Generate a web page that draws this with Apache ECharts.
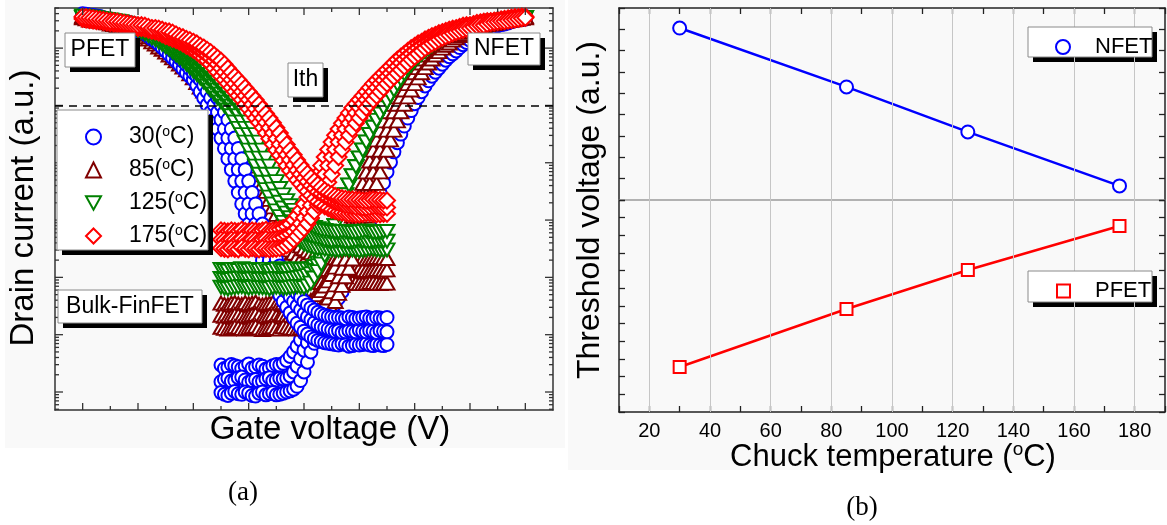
<!DOCTYPE html>
<html>
<head>
<meta charset="utf-8">
<script src="https://cdn.jsdelivr.net/npm/echarts@6/dist/echarts.min.js"></script>
<style>
html,body{margin:0;padding:0;background:#fff;}
#chart{width:1167px;height:525px;}
</style>
</head>
<body>
<div id="chart"></div>
<script>
// ---------- (a) transfer curves: gate sweeps (V) ----------
const gateP = [-1.600,-1.575,-1.550,-1.525,-1.500,-1.475,-1.450,-1.425,-1.400,-1.375,-1.350,-1.325,-1.300,-1.275,-1.250,-1.225,-1.200,-1.175,-1.150,-1.125,-1.100,-1.075,-1.050,-1.025,-1.000,-0.975,-0.950,-0.925,-0.900,-0.875,-0.850,-0.825,-0.800,-0.775,-0.750,-0.725,-0.700,-0.675,-0.650,-0.625,-0.600,-0.575,-0.550,-0.525,-0.500,-0.475,-0.450,-0.425,-0.400,-0.375,-0.350,-0.325,-0.300,-0.275,-0.250,-0.225,-0.200,-0.175,-0.150,-0.125,-0.100,-0.075,-0.050,-0.025,0.000,0.025,0.050,0.075,0.100,0.125,0.150,0.175,0.200,0.225,0.250,0.275,0.300,0.325,0.350,0.375,0.400,0.425,0.450,0.475,0.500,0.525,0.550,0.575,0.600];
const gateN = [-0.600,-0.575,-0.550,-0.525,-0.500,-0.475,-0.450,-0.425,-0.400,-0.375,-0.350,-0.325,-0.300,-0.275,-0.250,-0.225,-0.200,-0.175,-0.150,-0.125,-0.100,-0.075,-0.050,-0.025,0.000,0.025,0.050,0.075,0.100,0.125,0.150,0.175,0.200,0.225,0.250,0.275,0.300,0.325,0.350,0.375,0.400,0.425,0.450,0.475,0.500,0.525,0.550,0.575,0.600,0.625,0.650,0.675,0.700,0.725,0.750,0.775,0.800,0.825,0.850,0.875,0.900,0.925,0.950,0.975,1.000,1.025,1.050,1.075,1.100,1.125,1.150,1.175,1.200,1.225,1.250,1.275,1.300,1.325,1.350,1.375,1.400,1.425,1.450,1.475,1.500,1.525,1.550,1.575,1.600];

// drain current, log10 (a.u.), three sweeps per device and temperature
const pfet30 = [
  [6.56,6.55,6.53,6.51,6.49,6.48,6.47,6.47,6.46,6.45,6.44,6.42,6.39,6.37,6.35,6.33,6.30,6.28,6.25,6.21,6.16,6.12,6.07,6.01,5.95,5.89,5.83,5.77,5.71,5.64,5.57,5.51,5.45,5.35,5.24,5.13,5.01,4.88,4.75,4.59,4.43,4.25,4.07,3.88,3.68,3.48,3.28,3.11,2.93,2.77,2.60,2.45,2.30,2.17,2.04,1.92,1.80,1.69,1.58,1.48,1.38,1.29,1.20,1.13,1.06,1.01,0.96,0.93,0.90,0.88,0.86,0.85,0.84,0.83,0.82,0.84,0.83,0.80,0.81,0.83,0.82,0.83,0.84,0.82,0.81,0.83,0.82,0.81,0.83],
  [6.58,6.57,6.56,6.55,6.53,6.51,6.49,6.48,6.47,6.47,6.46,6.45,6.44,6.42,6.39,6.37,6.35,6.33,6.30,6.28,6.25,6.21,6.16,6.12,6.07,6.01,5.95,5.89,5.83,5.77,5.71,5.64,5.57,5.51,5.45,5.35,5.24,5.13,5.01,4.88,4.75,4.59,4.43,4.25,4.07,3.88,3.68,3.48,3.28,3.11,2.93,2.77,2.60,2.45,2.30,2.18,2.06,1.95,1.85,1.75,1.66,1.58,1.50,1.43,1.36,1.31,1.26,1.21,1.17,1.14,1.12,1.10,1.08,1.06,1.07,1.04,1.05,1.07,1.06,1.05,1.08,1.06,1.05,1.07,1.06,1.04,1.07,1.06,1.05],
  [6.60,6.59,6.58,6.57,6.56,6.55,6.53,6.51,6.49,6.48,6.47,6.47,6.46,6.45,6.44,6.42,6.39,6.37,6.35,6.33,6.30,6.28,6.25,6.21,6.16,6.12,6.07,6.01,5.95,5.89,5.83,5.77,5.71,5.64,5.57,5.51,5.45,5.35,5.24,5.13,5.01,4.88,4.75,4.59,4.43,4.25,4.07,3.88,3.68,3.48,3.28,3.11,2.93,2.77,2.60,2.46,2.32,2.20,2.08,1.98,1.88,1.80,1.72,1.65,1.58,1.52,1.47,1.43,1.39,1.36,1.34,1.32,1.31,1.30,1.30,1.29,1.28,1.31,1.30,1.28,1.29,1.30,1.31,1.29,1.28,1.30,1.29,1.28,1.30]
];
const pfet85 = [
  [6.53,6.51,6.49,6.48,6.47,6.47,6.46,6.44,6.42,6.41,6.39,6.37,6.35,6.34,6.32,6.30,6.27,6.24,6.20,6.16,6.11,6.07,6.02,5.98,5.93,5.88,5.83,5.78,5.72,5.67,5.62,5.55,5.48,5.40,5.32,5.25,5.18,5.10,5.01,4.90,4.78,4.66,4.54,4.40,4.26,4.10,3.94,3.79,3.63,3.49,3.35,3.21,3.07,2.93,2.80,2.68,2.56,2.45,2.35,2.26,2.18,2.11,2.05,2.01,1.98,1.96,1.94,1.93,1.92,1.91,1.90,1.90,1.91,1.90,1.89,1.90,1.90,1.91,1.92,1.90,1.89,1.89,1.90,1.91,1.91,1.90,1.89,1.90,1.90],
  [6.54,6.54,6.53,6.51,6.49,6.48,6.47,6.47,6.46,6.44,6.42,6.41,6.39,6.37,6.35,6.34,6.32,6.30,6.27,6.24,6.20,6.16,6.11,6.07,6.02,5.98,5.93,5.88,5.83,5.78,5.72,5.67,5.62,5.55,5.48,5.40,5.32,5.25,5.18,5.10,5.01,4.90,4.78,4.66,4.54,4.40,4.26,4.10,3.94,3.79,3.63,3.49,3.35,3.21,3.07,2.95,2.83,2.74,2.65,2.56,2.48,2.42,2.36,2.31,2.27,2.23,2.20,2.18,2.16,2.15,2.15,2.14,2.13,2.14,2.14,2.13,2.12,2.12,2.13,2.14,2.15,2.13,2.12,2.12,2.13,2.14,2.14,2.13,2.13],
  [6.56,6.55,6.54,6.54,6.53,6.51,6.49,6.48,6.47,6.47,6.46,6.44,6.42,6.41,6.39,6.37,6.35,6.34,6.32,6.30,6.27,6.24,6.20,6.16,6.11,6.07,6.02,5.98,5.93,5.88,5.83,5.78,5.72,5.67,5.62,5.55,5.48,5.40,5.32,5.25,5.18,5.10,5.01,4.90,4.78,4.66,4.54,4.40,4.26,4.10,3.94,3.79,3.63,3.50,3.36,3.23,3.10,2.99,2.89,2.81,2.73,2.66,2.60,2.55,2.50,2.46,2.43,2.40,2.38,2.37,2.36,2.35,2.35,2.34,2.34,2.33,2.33,2.34,2.35,2.35,2.34,2.33,2.32,2.33,2.34,2.35,2.35,2.34,2.33]
];
const pfet125 = [
  [6.53,6.52,6.51,6.50,6.49,6.48,6.47,6.46,6.44,6.42,6.40,6.39,6.37,6.35,6.33,6.32,6.30,6.28,6.25,6.22,6.18,6.15,6.11,6.07,6.02,5.98,5.93,5.88,5.83,5.78,5.72,5.66,5.60,5.54,5.48,5.41,5.34,5.27,5.20,5.13,5.06,4.99,4.92,4.82,4.71,4.60,4.49,4.36,4.22,4.08,3.94,3.80,3.66,3.53,3.40,3.28,3.16,3.06,2.96,2.88,2.80,2.73,2.67,2.62,2.58,2.55,2.53,2.51,2.50,2.50,2.49,2.48,2.48,2.47,2.47,2.48,2.49,2.48,2.48,2.47,2.46,2.47,2.48,2.49,2.49,2.48,2.47,2.47,2.48],
  [6.54,6.54,6.53,6.52,6.51,6.50,6.49,6.48,6.47,6.46,6.44,6.42,6.40,6.39,6.37,6.35,6.33,6.32,6.30,6.28,6.25,6.22,6.18,6.15,6.11,6.07,6.02,5.98,5.93,5.88,5.83,5.78,5.72,5.66,5.60,5.54,5.48,5.41,5.34,5.27,5.20,5.13,5.06,4.99,4.92,4.82,4.71,4.60,4.49,4.36,4.22,4.08,3.94,3.80,3.66,3.54,3.42,3.31,3.21,3.12,3.04,2.97,2.90,2.84,2.79,2.75,2.72,2.70,2.69,2.67,2.65,2.64,2.63,2.64,2.64,2.63,2.62,2.62,2.63,2.64,2.65,2.63,2.62,2.62,2.63,2.64,2.64,2.63,2.63],
  [6.56,6.55,6.54,6.54,6.53,6.52,6.51,6.50,6.49,6.48,6.47,6.46,6.44,6.42,6.40,6.39,6.37,6.35,6.33,6.32,6.30,6.28,6.25,6.22,6.18,6.15,6.11,6.07,6.02,5.98,5.93,5.88,5.83,5.78,5.72,5.66,5.60,5.54,5.48,5.41,5.34,5.27,5.20,5.13,5.06,4.99,4.92,4.82,4.71,4.60,4.49,4.36,4.22,4.08,3.94,3.80,3.67,3.55,3.44,3.34,3.25,3.17,3.09,3.03,2.98,2.94,2.90,2.87,2.85,2.83,2.82,2.81,2.80,2.79,2.79,2.80,2.80,2.79,2.78,2.78,2.79,2.80,2.81,2.80,2.78,2.78,2.79,2.80,2.80]
];
const pfet175 = [
  [6.51,6.50,6.49,6.48,6.47,6.47,6.46,6.45,6.44,6.43,6.42,6.41,6.40,6.40,6.39,6.37,6.35,6.35,6.34,6.32,6.30,6.29,6.27,6.24,6.21,6.19,6.16,6.14,6.11,6.08,6.04,6.01,5.97,5.93,5.88,5.83,5.78,5.72,5.65,5.58,5.51,5.45,5.38,5.31,5.24,5.17,5.10,5.02,4.94,4.86,4.78,4.70,4.61,4.52,4.42,4.32,4.22,4.13,4.04,3.95,3.86,3.78,3.70,3.63,3.56,3.50,3.43,3.37,3.32,3.28,3.24,3.21,3.18,3.16,3.14,3.13,3.12,3.11,3.11,3.10,3.10,3.11,3.12,3.12,3.11,3.10,3.10,3.11,3.11],
  [6.53,6.52,6.51,6.50,6.49,6.48,6.47,6.47,6.46,6.45,6.44,6.43,6.42,6.41,6.40,6.40,6.39,6.37,6.35,6.35,6.34,6.32,6.30,6.29,6.27,6.24,6.21,6.19,6.16,6.14,6.11,6.08,6.04,6.01,5.97,5.93,5.88,5.83,5.78,5.72,5.65,5.58,5.51,5.45,5.38,5.31,5.24,5.17,5.10,5.02,4.94,4.86,4.78,4.70,4.61,4.52,4.42,4.32,4.22,4.14,4.05,3.96,3.87,3.80,3.73,3.67,3.60,3.55,3.49,3.46,3.42,3.38,3.35,3.32,3.30,3.28,3.26,3.25,3.24,3.23,3.23,3.22,3.22,3.23,3.24,3.24,3.23,3.22,3.22],
  [6.55,6.54,6.53,6.52,6.51,6.50,6.49,6.48,6.47,6.47,6.46,6.45,6.44,6.43,6.42,6.41,6.40,6.40,6.39,6.37,6.35,6.35,6.34,6.32,6.30,6.29,6.27,6.24,6.21,6.19,6.16,6.14,6.11,6.08,6.04,6.01,5.97,5.93,5.88,5.83,5.78,5.72,5.65,5.58,5.51,5.45,5.38,5.31,5.24,5.17,5.10,5.02,4.94,4.86,4.78,4.70,4.61,4.52,4.42,4.32,4.22,4.14,4.05,3.96,3.88,3.81,3.74,3.68,3.62,3.57,3.52,3.48,3.45,3.42,3.40,3.38,3.37,3.36,3.36,3.35,3.35,3.34,3.34,3.35,3.36,3.35,3.35,3.34,3.34]
];
const nfet30 = [
  [0.47,0.41,0.43,0.48,0.46,0.44,0.41,0.45,0.49,0.42,0.44,0.47,0.45,0.40,0.42,0.46,0.48,0.47,0.50,0.55,0.62,0.70,0.80,0.91,1.02,1.12,1.22,1.32,1.43,1.53,1.64,1.75,1.87,2.00,2.13,2.28,2.44,2.61,2.79,2.96,3.14,3.30,3.47,3.65,3.84,4.01,4.19,4.35,4.50,4.64,4.78,4.91,5.03,5.14,5.24,5.34,5.43,5.51,5.58,5.65,5.72,5.79,5.85,5.90,5.95,6.01,6.06,6.10,6.14,6.18,6.21,6.25,6.28,6.31,6.34,6.37,6.39,6.41,6.42,6.44,6.46,6.48,6.49,6.50,6.51,6.52,6.53,6.54,6.55],
  [0.18,0.22,0.24,0.19,0.20,0.25,0.26,0.21,0.17,0.20,0.22,0.18,0.19,0.23,0.25,0.20,0.21,0.24,0.23,0.24,0.28,0.35,0.45,0.58,0.73,0.86,0.99,1.11,1.22,1.32,1.43,1.53,1.64,1.75,1.87,2.00,2.13,2.28,2.44,2.61,2.79,2.96,3.14,3.30,3.47,3.65,3.84,4.01,4.19,4.35,4.50,4.64,4.78,4.91,5.03,5.14,5.24,5.34,5.43,5.51,5.58,5.65,5.72,5.79,5.85,5.90,5.95,6.01,6.06,6.10,6.14,6.18,6.21,6.25,6.28,6.31,6.34,6.37,6.39,6.41,6.42,6.44,6.46,6.48,6.49,6.50,6.51,6.52,6.53],
  [-0.01,-0.04,-0.06,-0.02,0.01,-0.03,-0.04,0.00,-0.02,-0.06,-0.07,-0.02,0.00,-0.05,-0.03,-0.01,-0.05,-0.04,-0.02,0.00,0.02,0.05,0.10,0.20,0.35,0.52,0.70,0.85,0.99,1.11,1.22,1.32,1.43,1.53,1.64,1.75,1.87,2.00,2.13,2.28,2.44,2.61,2.79,2.96,3.14,3.30,3.47,3.65,3.84,4.01,4.19,4.35,4.50,4.64,4.78,4.91,5.03,5.14,5.24,5.34,5.43,5.51,5.58,5.65,5.72,5.79,5.85,5.90,5.95,6.01,6.06,6.10,6.14,6.18,6.21,6.25,6.28,6.31,6.34,6.37,6.39,6.41,6.42,6.44,6.46,6.48,6.49,6.50,6.51]
];
const nfet85 = [
  [1.55,1.53,1.52,1.55,1.56,1.54,1.53,1.56,1.54,1.55,1.57,1.53,1.52,1.54,1.55,1.56,1.53,1.54,1.56,1.55,1.54,1.53,1.55,1.56,1.56,1.58,1.60,1.65,1.70,1.77,1.85,1.94,2.05,2.18,2.32,2.50,2.69,2.88,3.07,3.25,3.44,3.64,3.84,4.03,4.22,4.40,4.57,4.73,4.89,5.02,5.15,5.27,5.38,5.48,5.57,5.66,5.74,5.81,5.88,5.94,6.00,6.05,6.09,6.14,6.18,6.22,6.25,6.28,6.30,6.33,6.35,6.37,6.39,6.41,6.42,6.43,6.44,6.46,6.47,6.48,6.49,6.50,6.51,6.52,6.53,6.54,6.54,6.55,6.55],
  [1.34,1.32,1.31,1.33,1.35,1.34,1.32,1.31,1.33,1.35,1.36,1.33,1.30,1.32,1.34,1.35,1.32,1.31,1.35,1.34,1.33,1.32,1.31,1.32,1.33,1.34,1.36,1.39,1.43,1.48,1.55,1.64,1.75,1.87,2.01,2.16,2.32,2.50,2.69,2.88,3.07,3.25,3.44,3.64,3.84,4.03,4.22,4.40,4.57,4.73,4.89,5.02,5.15,5.27,5.38,5.48,5.57,5.66,5.74,5.81,5.88,5.94,6.00,6.05,6.09,6.14,6.18,6.22,6.25,6.28,6.30,6.33,6.35,6.37,6.39,6.41,6.42,6.43,6.44,6.46,6.47,6.48,6.49,6.50,6.51,6.52,6.53,6.54,6.54],
  [1.13,1.11,1.10,1.12,1.14,1.13,1.11,1.10,1.12,1.14,1.15,1.12,1.09,1.11,1.13,1.14,1.11,1.10,1.14,1.13,1.12,1.11,1.10,1.12,1.13,1.11,1.12,1.14,1.16,1.20,1.26,1.34,1.45,1.58,1.72,1.86,2.01,2.16,2.32,2.50,2.69,2.88,3.07,3.25,3.44,3.64,3.84,4.03,4.22,4.40,4.57,4.73,4.89,5.02,5.15,5.27,5.38,5.48,5.57,5.66,5.74,5.81,5.88,5.94,6.00,6.05,6.09,6.14,6.18,6.22,6.25,6.28,6.30,6.33,6.35,6.37,6.39,6.41,6.42,6.43,6.44,6.46,6.47,6.48,6.49,6.50,6.51,6.52,6.53]
];
const nfet125 = [
  [2.14,2.12,2.11,2.14,2.13,2.12,2.15,2.13,2.12,2.13,2.14,2.12,2.13,2.14,2.11,2.12,2.14,2.15,2.12,2.11,2.13,2.14,2.15,2.13,2.14,2.14,2.15,2.19,2.25,2.33,2.43,2.56,2.72,2.90,3.09,3.27,3.44,3.61,3.77,3.93,4.08,4.22,4.36,4.49,4.62,4.74,4.85,4.96,5.06,5.17,5.27,5.37,5.46,5.55,5.64,5.71,5.78,5.84,5.90,5.95,6.00,6.05,6.09,6.13,6.16,6.20,6.23,6.26,6.28,6.31,6.34,6.36,6.37,6.39,6.40,6.41,6.42,6.44,6.46,6.47,6.47,6.48,6.49,6.50,6.51,6.52,6.53,6.53,6.53],
  [1.98,1.96,1.95,1.96,1.97,1.98,1.99,1.97,1.96,1.97,1.98,1.96,1.97,1.96,1.95,1.97,1.98,1.97,1.96,1.96,1.97,1.98,1.99,2.00,2.01,2.03,2.06,2.12,2.20,2.30,2.41,2.56,2.72,2.90,3.09,3.27,3.44,3.61,3.77,3.93,4.08,4.22,4.36,4.49,4.62,4.74,4.85,4.96,5.06,5.17,5.27,5.37,5.46,5.55,5.64,5.71,5.78,5.84,5.90,5.95,6.00,6.05,6.09,6.13,6.16,6.20,6.23,6.26,6.28,6.31,6.34,6.36,6.37,6.39,6.40,6.41,6.42,6.44,6.46,6.47,6.47,6.48,6.49,6.50,6.51,6.52,6.53,6.53,6.53],
  [1.83,1.81,1.80,1.81,1.82,1.83,1.84,1.82,1.81,1.82,1.83,1.82,1.82,1.81,1.80,1.82,1.83,1.82,1.81,1.81,1.82,1.83,1.84,1.83,1.82,1.85,1.90,1.99,2.10,2.23,2.38,2.53,2.70,2.90,3.09,3.27,3.44,3.61,3.77,3.93,4.08,4.22,4.36,4.49,4.62,4.74,4.85,4.96,5.06,5.17,5.27,5.37,5.46,5.55,5.64,5.71,5.78,5.84,5.90,5.95,6.00,6.05,6.09,6.13,6.16,6.20,6.23,6.26,6.28,6.31,6.34,6.36,6.37,6.39,6.40,6.41,6.42,6.44,6.46,6.47,6.47,6.48,6.49,6.50,6.51,6.52,6.53,6.53,6.53]
];
const nfet175 = [
  [2.82,2.81,2.80,2.82,2.81,2.80,2.83,2.81,2.80,2.82,2.81,2.80,2.82,2.83,2.81,2.82,2.83,2.84,2.86,2.89,2.93,3.00,3.08,3.17,3.28,3.40,3.53,3.66,3.80,3.95,4.10,4.23,4.36,4.48,4.59,4.69,4.78,4.87,4.96,5.03,5.10,5.17,5.24,5.31,5.38,5.44,5.50,5.56,5.62,5.68,5.74,5.80,5.85,5.90,5.95,6.00,6.04,6.08,6.11,6.15,6.18,6.21,6.23,6.26,6.28,6.30,6.32,6.34,6.35,6.37,6.39,6.40,6.40,6.42,6.44,6.45,6.46,6.47,6.47,6.48,6.49,6.50,6.51,6.52,6.53,6.54,6.54,6.55,6.55],
  [2.66,2.65,2.64,2.66,2.65,2.64,2.67,2.65,2.64,2.66,2.65,2.64,2.66,2.67,2.65,2.66,2.67,2.68,2.70,2.73,2.76,2.80,2.86,2.94,3.04,3.15,3.26,3.39,3.53,3.66,3.80,3.95,4.10,4.23,4.36,4.48,4.59,4.69,4.78,4.87,4.96,5.03,5.10,5.17,5.24,5.31,5.38,5.44,5.50,5.56,5.62,5.68,5.74,5.80,5.85,5.90,5.95,6.00,6.04,6.08,6.11,6.15,6.18,6.21,6.23,6.26,6.28,6.30,6.32,6.34,6.35,6.37,6.39,6.40,6.40,6.42,6.44,6.45,6.46,6.47,6.47,6.48,6.49,6.50,6.51,6.52,6.53,6.54,6.54],
  [2.51,2.50,2.49,2.51,2.50,2.49,2.52,2.50,2.49,2.51,2.50,2.49,2.51,2.50,2.49,2.50,2.50,2.51,2.53,2.56,2.60,2.66,2.72,2.79,2.86,2.94,3.04,3.15,3.26,3.39,3.53,3.66,3.80,3.95,4.10,4.23,4.36,4.48,4.59,4.69,4.78,4.87,4.96,5.03,5.10,5.17,5.24,5.31,5.38,5.44,5.50,5.56,5.62,5.68,5.74,5.80,5.85,5.90,5.95,6.00,6.04,6.08,6.11,6.15,6.18,6.21,6.23,6.26,6.28,6.30,6.32,6.34,6.35,6.37,6.39,6.40,6.40,6.42,6.44,6.45,6.46,6.47,6.47,6.48,6.49,6.50,6.51,6.52,6.53]
];
const ithLog = 5.0;                       // threshold current criterion, log10 (a.u.)
const tempLabels = ['30', '85', '125', '175'];

// ---------- (b) threshold voltage vs chuck temperature ----------
const chuckTemp = [30, 85, 125, 175];
const vthNfet = [8.06, 5.30, 3.19, 0.66];     // a.u., upper layer
const vthPfet = [-9.45, -6.17, -3.96, -1.47]; // a.u., lower layer
const tempGridLines = [20, 40, 60, 80, 100, 120, 140, 160, 180];

// ---------- axis ranges and tick positions ----------
const GATE_RANGE = [-1.8, 1.8];
const CURRENT_RANGE = [Math.pow(10, -0.314), Math.pow(10, 6.70)];
const gateTicks = [-1.6,-1.4,-1.2,-1.0,-0.8,-0.6,-0.4,-0.2,0,0.2,0.4,0.6,0.8,1.0,1.2,1.4,1.6];

const FONT = '"Liberation Sans", Arial, sans-serif';
const SERIF = '"Liberation Serif", "Times New Roman", serif';
const COLOR = {'30': '#0000ff', '85': '#800000', '125': '#008000', '175': '#ff0000'};
const SYMBOL = {'30': 'circle', '85': 'triangle', '125': 'path://M0,0L10,0L5,9Z', '175': 'diamond'};
const SIZE = {'30': 13, '85': [15, 13], '125': [15, 13], '175': [16, 16]};

function curveSeries(temp, gate, logCurrent) {
  return {
    type: 'scatter', name: temp, xAxisIndex: 0, yAxisIndex: 0, z: 2, silent: true,
    symbol: SYMBOL[temp], symbolSize: SIZE[temp],
    itemStyle: {color: '#fff', borderColor: COLOR[temp], borderWidth: 2, opacity: 1},
    data: gate.map((v, i) => [v, Math.pow(10, logCurrent[i])])
  };
}

// drawing order of the curve families
const families = [
  ['30', gateN, nfet30], ['85', gateP, pfet85], ['85', gateN, nfet85], ['30', gateP, pfet30],
  ['125', gateN, nfet125], ['125', gateP, pfet125], ['175', gateN, nfet175], ['175', gateP, pfet175]
];
const curveList = [];
families.forEach(([t, g, set]) => set.forEach(c => curveList.push(curveSeries(t, g, c))));

// frame ticks of panel (a): [x, y, length, side]  side 0=bottom 1=top 2=left 3=right
const frameTickData = [];
gateTicks.forEach((v, i) => {
  const len = i % 2 === 0 ? 7 : 4;
  frameTickData.push([v, CURRENT_RANGE[0], len, 0]);
  frameTickData.push([v, CURRENT_RANGE[0], len, 1]);
});
for (let d = -1; d <= 6; d++) {
  for (let k = 1; k <= 9; k++) {
    const v = k * Math.pow(10, d);
    if (v < CURRENT_RANGE[0] || v > CURRENT_RANGE[1]) continue;
    const len = k === 1 ? 8 : 4;
    frameTickData.push([GATE_RANGE[0], v, len, 2]);
    frameTickData.push([GATE_RANGE[0], v, len, 3]);
  }
}
function renderFrameTick(params, api) {
  const side = api.value(3), len = api.value(2);
  let a, b;
  if (side === 0) { a = api.coord([api.value(0), CURRENT_RANGE[0]]); b = [a[0], a[1] - len]; }
  else if (side === 1) { a = api.coord([api.value(0), CURRENT_RANGE[1]]); b = [a[0], a[1] + len]; }
  else if (side === 2) { a = api.coord([GATE_RANGE[0], api.value(1)]); b = [a[0] + len, a[1]]; }
  else { a = api.coord([GATE_RANGE[1], api.value(1)]); b = [a[0] - len, a[1]]; }
  return {type: 'line', shape: {x1: a[0], y1: a[1], x2: b[0], y2: b[1]},
          style: {stroke: '#333', lineWidth: 1.3}};
}

// ---------- framed annotation boxes with drop shadow ----------
function shadowBox(x, y, w, h) {
  return [
    {type: 'rect', z: 5, silent: true, shape: {x: x + 5, y: y + 5, width: w, height: h}, style: {fill: '#000'}},
    {type: 'rect', z: 6, silent: true, shape: {x: x, y: y, width: w, height: h}, style: {fill: '#fff', stroke: '#8a8a8a', lineWidth: 1}}
  ];
}
function boxText(x, y, text, size) {
  return {type: 'text', z: 7, silent: true, x: x, y: y,
          style: {text: text, fontSize: size, fontFamily: FONT, fill: '#000', align: 'center', verticalAlign: 'middle'}};
}

const frameLine = {show: true, onZero: false, lineStyle: {color: '#333', width: 1.5}};
const tempAxisBase = {
  type: 'value', min: 10, max: 190, interval: 10,
  axisLine: {show: true, onZero: false, lineStyle: {color: '#222', width: 1.5}},
  axisTick: {show: true, inside: true, length: 6, lineStyle: {color: '#222', width: 1.3}},
  axisLabel: {show: false}, splitLine: {show: false}
};
function vthAxis(grid, pos, min, max) {
  return {
    type: 'value', gridIndex: grid, position: pos, min: min, max: max, interval: 1,
    axisLine: {show: true, onZero: false, lineStyle: {color: '#222', width: 1.5}},
    axisTick: {show: true, inside: true, length: 6, lineStyle: {color: '#222', width: 1.3}},
    axisLabel: {show: false}, splitLine: {show: false}
  };
}

const chart = echarts.init(document.getElementById('chart'), null, {renderer: 'canvas'});
chart.setOption({
  animation: false,
  backgroundColor: '#fff',
  grid: [
    {left: 55, top: 8, width: 498, height: 402, outerBoundsMode: 'none'},
    {left: 619, top: 8, width: 546, height: 192, outerBoundsMode: 'none'},
    {left: 619, top: 200, width: 546, height: 212, outerBoundsMode: 'none'}
  ],
  xAxis: [
    {type: 'value', gridIndex: 0, position: 'bottom', min: GATE_RANGE[0], max: GATE_RANGE[1],
     axisLine: frameLine, axisTick: {show: false}, axisLabel: {show: false}, splitLine: {show: false}},
    {type: 'value', gridIndex: 0, position: 'top', min: GATE_RANGE[0], max: GATE_RANGE[1],
     axisLine: frameLine, axisTick: {show: false}, axisLabel: {show: false}, splitLine: {show: false}},
    Object.assign({}, tempAxisBase, {gridIndex: 1, position: 'bottom',
     axisLine: {show: true, onZero: false, lineStyle: {color: '#9a9a9a', width: 1.5}}, axisTick: {show: false}}),
    Object.assign({}, tempAxisBase, {gridIndex: 1, position: 'top'}),
    Object.assign({}, tempAxisBase, {gridIndex: 2, position: 'bottom',
     axisLabel: {show: true, margin: 9, color: '#000', fontSize: 20, fontFamily: FONT,
                 formatter: v => (v % 20 === 0 ? String(v) : '')}})
  ],
  yAxis: [
    {type: 'log', logBase: 10, gridIndex: 0, position: 'left', min: CURRENT_RANGE[0], max: CURRENT_RANGE[1],
     axisLine: frameLine, axisTick: {show: false}, axisLabel: {show: false}, splitLine: {show: false}, minorTick: {show: false}},
    {type: 'log', logBase: 10, gridIndex: 0, position: 'right', min: CURRENT_RANGE[0], max: CURRENT_RANGE[1],
     axisLine: frameLine, axisTick: {show: false}, axisLabel: {show: false}, splitLine: {show: false}, minorTick: {show: false}},
    vthAxis(1, 'left', 0, 9),
    vthAxis(1, 'right', 0, 9),
    vthAxis(2, 'left', -12, 0),
    vthAxis(2, 'right', -12, 0)
  ],
  legend: [
    {
      orient: 'vertical', left: 80, top: 120, itemWidth: 15, itemHeight: 15, itemGap: 9,
      z: 20, selectedMode: false,
      data: tempLabels.map(t => ({name: t, icon: SYMBOL[t],
        itemStyle: {color: '#fff', borderColor: COLOR[t], borderWidth: 2}})),
      formatter: n => n + '({s|o}C)',
      textStyle: {color: '#000', fontSize: 23, fontFamily: FONT, lineHeight: 24, padding: [0, 0, 0, 23],
                  rich: {s: {fontSize: 14, lineHeight: 14, fontFamily: FONT, verticalAlign: 'top', color: '#000'}}}
    },
    {
      orient: 'vertical', left: 1050, top: 30, itemWidth: 14, itemHeight: 14, z: 20, selectedMode: false,
      data: [{name: 'NFET', icon: 'circle', itemStyle: {color: '#fff', borderColor: '#0000ff', borderWidth: 2}}],
      textStyle: {color: '#000', fontSize: 22, fontFamily: FONT, lineHeight: 24, padding: [0, 0, 0, 20]}
    },
    {
      orient: 'vertical', left: 1051, top: 274, itemWidth: 13, itemHeight: 13, z: 20, selectedMode: false,
      data: [{name: 'PFET', icon: 'rect', itemStyle: {color: '#fff', borderColor: '#ff0000', borderWidth: 2}}],
      textStyle: {color: '#000', fontSize: 22, fontFamily: FONT, lineHeight: 24, padding: [0, 0, 0, 20]}
    }
  ],
  series: [
    // Ith criterion
    {type: 'scatter', xAxisIndex: 0, yAxisIndex: 0, data: [], z: 1, silent: true,
     markLine: {silent: true, symbol: ['none', 'none'], label: {show: false},
                lineStyle: {color: '#000', width: 1.6, type: [8, 6]},
                data: [{yAxis: Math.pow(10, ithLog)}]}},
    ...curveList,
    {type: 'custom', xAxisIndex: 0, yAxisIndex: 0, z: 4, silent: true, clip: false,
     renderItem: renderFrameTick, data: frameTickData},
    // vertical grid of panel (b)
    {type: 'scatter', xAxisIndex: 2, yAxisIndex: 2, data: [], z: 1, silent: true,
     markLine: {silent: true, symbol: ['none', 'none'], label: {show: false},
                lineStyle: {color: '#c6c6c6', width: 1, type: 'solid'},
                data: tempGridLines.map(t => ({xAxis: t}))}},
    {type: 'scatter', xAxisIndex: 4, yAxisIndex: 4, data: [], z: 1, silent: true,
     markLine: {silent: true, symbol: ['none', 'none'], label: {show: false},
                lineStyle: {color: '#c6c6c6', width: 1, type: 'solid'},
                data: tempGridLines.map(t => ({xAxis: t}))}},
    {type: 'line', name: 'NFET', xAxisIndex: 2, yAxisIndex: 2, z: 3, silent: true,
     data: chuckTemp.map((t, i) => [t, vthNfet[i]]),
     symbol: 'circle', symbolSize: 13, showAllSymbol: true,
     lineStyle: {color: '#0000ff', width: 2.5},
     itemStyle: {color: '#fff', borderColor: '#0000ff', borderWidth: 2}},
    {type: 'line', name: 'PFET', xAxisIndex: 4, yAxisIndex: 4, z: 3, silent: true,
     data: chuckTemp.map((t, i) => [t, vthPfet[i]]),
     symbol: 'rect', symbolSize: 12, showAllSymbol: true,
     lineStyle: {color: '#ff0000', width: 2.5},
     itemStyle: {color: '#fff', borderColor: '#ff0000', borderWidth: 2}}
  ],
  graphic: {elements: [
    // panel backgrounds
    {type: 'rect', z: -10, silent: true, shape: {x: 5, y: 0, width: 560, height: 448}, style: {fill: '#f9f9f9'}},
    {type: 'rect', z: -10, silent: true, shape: {x: 568, y: 0, width: 599, height: 470}, style: {fill: '#f9f9f9'}},
    // annotation boxes, panel (a)
    ...shadowBox(65, 33, 70, 34), boxText(100, 50, 'PFET', 23),
    ...shadowBox(468, 33, 72, 32), boxText(504, 49, 'NFET', 23),
    ...shadowBox(288, 63, 35, 34), boxText(305.5, 80, 'Ith', 23),
    ...shadowBox(58, 290, 144, 33), boxText(130, 306.5, 'Bulk-FinFET', 23),
    ...shadowBox(57, 110, 151, 140),
    // legend frames, panel (b)
    ...shadowBox(1028, 27, 124, 30),
    ...shadowBox(1028, 271, 124, 31),
    // axis titles
    {type: 'text', silent: true, x: 24, y: 208, rotation: Math.PI / 2,
     style: {text: 'Drain current (a.u.)', fontSize: 33, fontFamily: FONT, fill: '#000', align: 'center', verticalAlign: 'middle'}},
    {type: 'text', silent: true, x: 330, y: 430,
     style: {text: 'Gate voltage (V)', fontSize: 33, fontFamily: FONT, fill: '#000', align: 'center', verticalAlign: 'middle'}},
    {type: 'text', silent: true, x: 590, y: 210, rotation: Math.PI / 2,
     style: {text: 'Threshold voltage (a.u.)', fontSize: 32, fontFamily: FONT, fill: '#000', align: 'center', verticalAlign: 'middle'}},
    {type: 'text', silent: true, x: 893, y: 457,
     style: {text: 'Chuck temperature ({s|o}C)', fontSize: 31, fontFamily: FONT, fill: '#000', lineHeight: 34,
             align: 'center', verticalAlign: 'middle',
             rich: {s: {fontSize: 19, lineHeight: 19, fontFamily: FONT, fill: '#000', verticalAlign: 'top'}}}},
    // panel captions
    {type: 'text', silent: true, x: 243, y: 493,
     style: {text: '(a)', fontSize: 27, fontFamily: SERIF, fill: '#000', align: 'center', verticalAlign: 'middle'}},
    {type: 'text', silent: true, x: 862, y: 508,
     style: {text: '(b)', fontSize: 27, fontFamily: SERIF, fill: '#000', align: 'center', verticalAlign: 'middle'}}
  ]}
});
</script>
</body>
</html>
